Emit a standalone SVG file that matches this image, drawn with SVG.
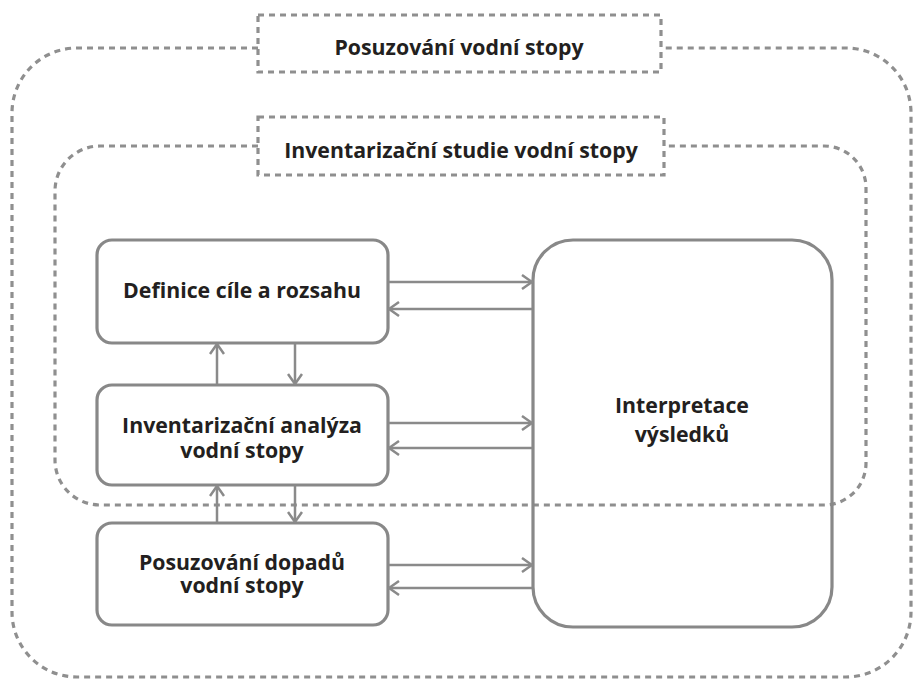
<svg xmlns="http://www.w3.org/2000/svg" width="914" height="680" viewBox="0 0 914 680">
<style>
.dash{fill:none;stroke:#8f8f8f;stroke-width:3.2;stroke-dasharray:6 5}
.box{fill:none;stroke:#888;stroke-width:3.2}
.ln{fill:none;stroke:#8a8a8a;stroke-width:2.5}
text{font-family:"Open Sans","Liberation Sans",sans-serif;font-weight:700;fill:#231f20;text-anchor:middle}
.t{font-size:21.3px}
</style>
<defs>
<marker id="ah" viewBox="0 0 12 16" refX="11" refY="8" markerWidth="12" markerHeight="16" markerUnits="userSpaceOnUse" orient="auto">
<path d="M1,1 L11,8 L1,15" fill="none" stroke="#8a8a8a" stroke-width="2.5"/>
</marker>
</defs>
<rect width="914" height="680" fill="#fff"/>
<g id="outer">
<path class="dash" d="M258,48 H77 A65,65 0 0 0 12,113 V612 A65,65 0 0 0 77,677 H846 A65,65 0 0 0 911,612 V113 A65,65 0 0 0 846,48 H661"/>
<rect class="dash" x="258" y="15" width="403" height="57"/>
<text class="t" x="459" y="55">Posuzování vodní stopy</text>
</g>
<g id="inner">
<path class="dash" d="M258,146 H100 A45,45 0 0 0 55,191 V460 A45,45 0 0 0 100,505 H824 A42,42 0 0 0 866,463 V188 A42,42 0 0 0 824,146 H664"/>
<rect class="dash" x="258" y="117" width="406" height="58"/>
<text class="t" x="461" y="158">Inventarizační studie vodní stopy</text>
</g>
<g id="definice">
<rect class="box" x="97" y="240" width="291" height="103" rx="15"/>
<text class="t" x="242" y="298">Definice cíle a rozsahu</text>
</g>
<g id="analyza">
<rect class="box" x="97" y="385" width="291" height="100" rx="15"/>
<text class="t" x="242" y="433">Inventarizační analýza<tspan x="242" dy="25">vodní stopy</tspan></text>
</g>
<g id="dopady">
<rect class="box" x="97" y="523" width="291" height="102" rx="15"/>
<text class="t" x="242" y="570">Posuzování dopadů<tspan x="242" dy="23">vodní stopy</tspan></text>
</g>
<g id="interpretace">
<rect class="box" x="533" y="240" width="299" height="387" rx="40"/>
<text class="t" x="682" y="413">Interpretace<tspan x="682" dy="29">výsledků</tspan></text>
</g>
<g id="connectors">
<line class="ln" x1="389" y1="282" x2="532" y2="282" marker-end="url(#ah)"/>
<line class="ln" x1="532" y1="309" x2="389" y2="309" marker-end="url(#ah)"/>
<line class="ln" x1="389" y1="423" x2="532" y2="423" marker-end="url(#ah)"/>
<line class="ln" x1="532" y1="448" x2="389" y2="448" marker-end="url(#ah)"/>
<line class="ln" x1="389" y1="565" x2="532" y2="565" marker-end="url(#ah)"/>
<line class="ln" x1="532" y1="588" x2="389" y2="588" marker-end="url(#ah)"/>
<line class="ln" x1="217" y1="384" x2="217" y2="344" marker-end="url(#ah)"/>
<line class="ln" x1="295" y1="344" x2="295" y2="384" marker-end="url(#ah)"/>
<line class="ln" x1="217" y1="522" x2="217" y2="486" marker-end="url(#ah)"/>
<line class="ln" x1="295" y1="486" x2="295" y2="522" marker-end="url(#ah)"/>
</g>
</svg>
